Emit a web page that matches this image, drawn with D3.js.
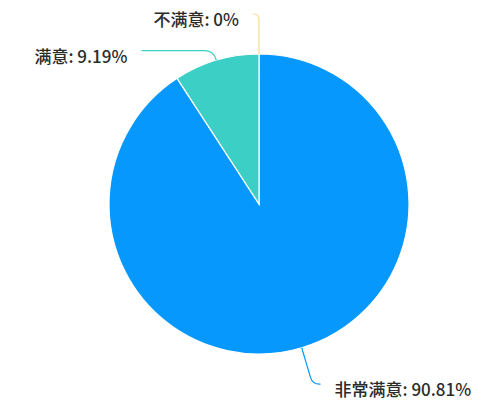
<!DOCTYPE html>
<html><head><meta charset="utf-8">
<script src="https://cdn.jsdelivr.net/npm/d3@7/dist/d3.min.js"></script>
<style>body{margin:0;background:#fff}svg{display:block}</style>
</head><body>
<svg id="c" width="500" height="404"></svg>
<script>
const categories = ["非常满意", "满意", "不满意"];
const values = [90.81, 9.19, 0];
const percentLabels = ["90.81%", "9.19%", "0%"];
const colors = ["#0798fe", "#3ccfc6", "#f8d98e"];
// label line layout: radial length, horizontal length
const len1 = [38, 10, 40];
const len2 = [8, 72, 6];

const W = 500, H = 404, cx = 259, cy = 204, R = 150;
const svg = d3.select("#c");
const g = svg.append("g").attr("transform", `translate(${cx},${cy})`);
const data = categories.map((c, i) => ({name: c, value: values[i], label: percentLabels[i], color: colors[i], l1: len1[i], l2: len2[i]}));
const pie = d3.pie().value(d => d.value).sort(null).startAngle(0).endAngle(2 * Math.PI);
const arcs = pie(data);
const arc = d3.arc().innerRadius(0).outerRadius(R);

g.selectAll("path.slice").data(arcs.filter(a => a.value > 0)).join("path")
  .attr("class", "slice").attr("d", arc)
  .attr("fill", d => d.data.color).attr("stroke", "#fff").attr("stroke-width", 1.2);

function linePath(a) {
  let mid = (a.startAngle + a.endAngle) / 2;
  if (a.value === 0) mid = a.startAngle;
  const dx = Math.sin(mid), dy = -Math.cos(mid);
  const p0 = [R * dx, R * dy];
  const p1 = [(R + a.data.l1) * dx, (R + a.data.l1) * dy];
  const side = dx > 0.001 ? 1 : -1;
  const p2 = [p1[0] + side * a.data.l2, p1[1]];
  const s = Math.min(a.data.l1, a.data.l2) * 0.9;
  const pa = [p1[0] - dx * s, p1[1] - dy * s];
  const pb = [p1[0] + side * s, p1[1]];
  return {d: `M${p0}L${pa}Q${p1} ${pb}L${p2}`, end: p2, side};
}

const lab = g.selectAll("g.lab").data(arcs).join("g").attr("class", "lab");
lab.append("path").attr("d", a => linePath(a).d)
  .attr("fill", "none").attr("stroke", a => a.data.color).attr("stroke-width", 1.2);
lab.append("text")
  .attr("x", a => { const p = linePath(a); return p.end[0] + p.side * 14; })
  .attr("y", a => linePath(a).end[1] + 6)
  .attr("dy", "0.35em")
  .attr("text-anchor", a => linePath(a).side > 0 ? "start" : "end")
  .attr("font-family", "'Noto Sans CJK SC','Microsoft YaHei',sans-serif")
  .attr("font-size", 17).attr("font-weight", 500).attr("fill", "#2b2b2b")
  .text(a => `${a.data.name}: ${a.data.label}`);
</script>
</body></html>
